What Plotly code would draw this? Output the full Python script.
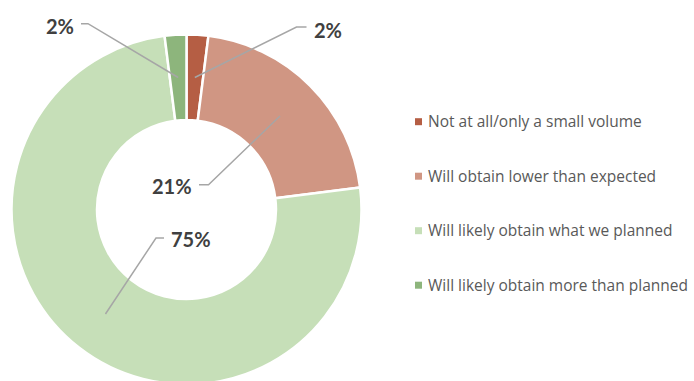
import math
import plotly.graph_objects as go

# Survey responses
categories = [
    "Not at all/only a small volume",
    "Will obtain lower than expected",
    "Will likely obtain what we planned",
    "Will likely obtain more than planned",
]
shares = [2, 21, 75, 2]
colors = ["#B55E44", "#D09683", "#C6DFB8", "#8DB57C"]

W, H = 694, 386
cx, cy, R, R_IN = 186.5, 209.5, 175, 89.5


def px(x):
    return x / W


def py(y):
    return 1 - y / H


fig = go.Figure(
    go.Pie(
        values=shares,
        labels=categories,
        marker=dict(colors=colors, line=dict(color="white", width=2.5)),
        hole=R_IN / R,
        sort=False,
        direction="clockwise",
        rotation=0,
        textinfo="none",
        showlegend=False,
        domain=dict(x=[px(cx - R), px(cx + R)], y=[py(cy + R), py(cy - R)]),
    )
)

# Data-label placement: text centre, leader start x, elbow x, leader y (pixels)
label_layout = [
    (327.5, 29.5, 306.5, 296.5, 27.0),
    (172.0, 186.0, 199.0, 208.5, 184.7),
    (191.0, 239.0, 164.0, 156.0, 238.0),
    (59.5, 26.0, 81.0, 88.0, 23.7),
]

total = sum(shares)
cum = 0
r_mid = (R + R_IN) / 2
for v, (tx, ty, x0, x1, ly) in zip(shares, label_layout):
    mid = (cum + v / 2) / total * 2 * math.pi
    cum += v
    ex = cx + r_mid * math.sin(mid)
    ey = cy - r_mid * math.cos(mid)
    fig.add_shape(
        type="path",
        xref="paper",
        yref="paper",
        path=f"M {px(x0)} {py(ly)} L {px(x1)} {py(ly)} L {px(ex)} {py(ey)}",
        line=dict(color="#A6A6A6", width=1.5),
    )
    fig.add_annotation(
        x=px(tx),
        y=py(ty),
        xref="paper",
        yref="paper",
        text=f"<b>{v}%</b>",
        showarrow=False,
        xanchor="center",
        yanchor="middle",
        font=dict(family="Lato", size=20, color="#404040"),
    )

# Legend on the right
LEG_X, LEG_Y0, LEG_DY, KEY = 415.0, 121.7, 54.5, 7.0
for i, (name, c) in enumerate(zip(categories, colors)):
    y = LEG_Y0 + i * LEG_DY
    fig.add_shape(
        type="rect",
        xref="paper",
        yref="paper",
        x0=px(LEG_X),
        x1=px(LEG_X + KEY),
        y0=py(y - KEY / 2),
        y1=py(y + KEY / 2),
        fillcolor=c,
        line=dict(width=0),
    )
    fig.add_annotation(
        x=px(LEG_X + KEY + 4.0),
        y=py(y - 0.5),
        xref="paper",
        yref="paper",
        text=name,
        showarrow=False,
        xanchor="left",
        yanchor="middle",
        font=dict(family="Open Sans", size=15.5, color="#595959"),
    )

fig.update_layout(
    width=W,
    height=H,
    margin=dict(l=0, r=0, t=0, b=0),
    paper_bgcolor="white",
    plot_bgcolor="white",
)

fig.write_html(
    "out.html",
    post_script="document.documentElement.style.overflow='hidden';document.body.style.overflow='hidden';",
)
